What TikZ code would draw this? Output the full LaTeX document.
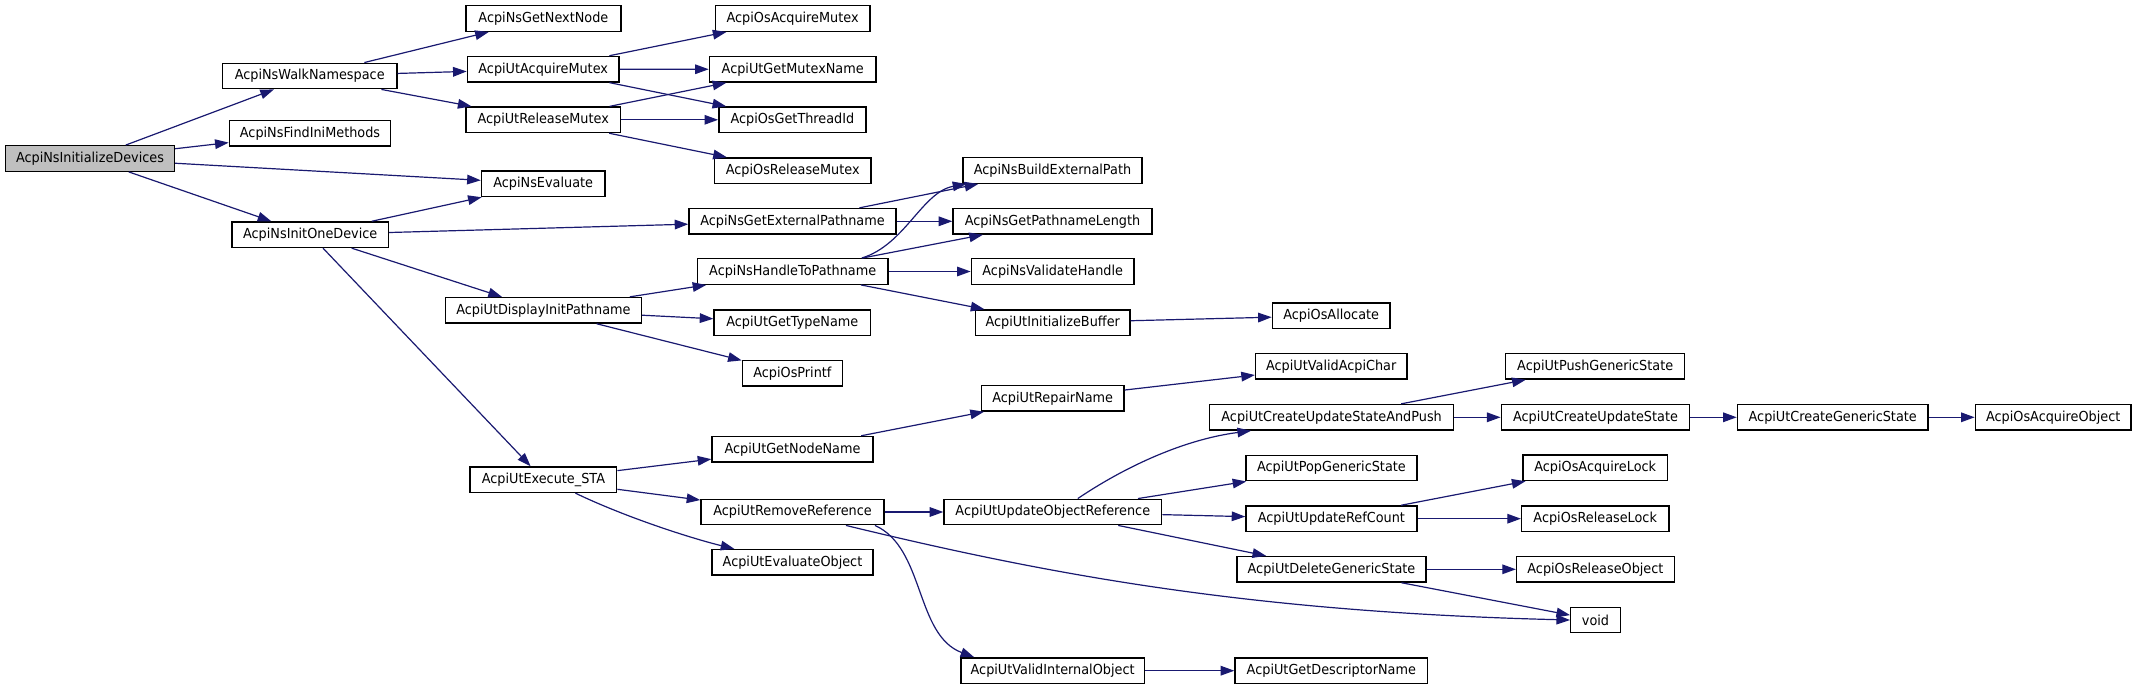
\documentclass[tikz,border=0pt]{standalone}
\usepackage{fontspec}
\setmainfont{DejaVu Sans}[FakeStretch=0.93]
\usetikzlibrary{arrows.meta,calc}
\definecolor{edgeblue}{HTML}{191970}
\definecolor{rootgray}{HTML}{BFBFBF}
\tikzset{
  fn/.style={draw=black, line width=0.7pt, rectangle, minimum height=12.75pt, inner sep=0pt, fill=white,
    font=\fontsize{6.9pt}{8pt}\selectfont},
  rootfn/.style={fn, fill=rootgray},
  edge/.style={draw=edgeblue, line width=0.6pt, -{Triangle[length=6.8pt,width=4.8pt]}, color=edgeblue},
}
\begin{document}
\begin{tikzpicture}[x=0.5pt,y=-0.5pt]
\useasboundingbox (0,0) rectangle (2136,689);
% column 0
\node[rootfn, minimum width=84.5pt] (InitDev) at (90,158.5) {AcpiNsInitializeDevices};
% column 1
\node[fn, minimum width=87.2pt] (WalkNs) at (309.7,76) {AcpiNsWalkNamespace};
\node[fn, minimum width=80.65pt] (FindIni) at (310,133.3) {AcpiNsFindIniMethods};
\node[fn, minimum width=78.15pt] (InitOne) at (310.2,234.7) {AcpiNsInitOneDevice};
% column 2
\node[fn, minimum width=77.4pt] (GetNextNode) at (543.4,18.5) {AcpiNsGetNextNode};
\node[fn, minimum width=75.85pt] (UtAcqMutex) at (543.2,69.2) {AcpiUtAcquireMutex};
\node[fn, minimum width=77.2pt] (UtRelMutex) at (543.2,119.8) {AcpiUtReleaseMutex};
\node[fn, minimum width=61.75pt] (NsEvaluate) at (543.2,183.8) {AcpiNsEvaluate};
\node[fn, minimum width=97.85pt] (DisplayInit) at (543.4,310.3) {AcpiUtDisplayInitPathname};
\node[fn, minimum width=73.35pt] (ExecSTA) at (543.4,479.7) {AcpiUtExecute\_STA};
% column 3
\node[fn, minimum width=77.4pt] (OsAcqMutex) at (792.6,18.5) {AcpiOsAcquireMutex};
\node[fn, minimum width=83.3pt] (GetMutexName) at (792.7,69.3) {AcpiUtGetMutexName};
\node[fn, minimum width=73.6pt] (OsGetThreadId) at (792.4,119.8) {AcpiOsGetThreadId};
\node[fn, minimum width=78.35pt] (OsRelMutex) at (792.7,170.7) {AcpiOsReleaseMutex};
\node[fn, minimum width=103.5pt] (GetExtPath) at (792.5,221.3) {AcpiNsGetExternalPathname};
\node[fn, minimum width=95.25pt] (HandleToPath) at (792.7,271.5) {AcpiNsHandleToPathname};
\node[fn, minimum width=78.25pt] (GetTypeName) at (792.3,322.7) {AcpiUtGetTypeName};
\node[fn, minimum width=50pt] (OsPrintf) at (792.4,373.2) {AcpiOsPrintf};
\node[fn, minimum width=80.5pt] (GetNodeName) at (792.5,449.2) {AcpiUtGetNodeName};
\node[fn, minimum width=91.5pt] (RemoveRef) at (792.5,512) {AcpiUtRemoveReference};
\node[fn, minimum width=80.5pt] (EvalObject) at (792.5,562.3) {AcpiUtEvaluateObject};
% column 4
\node[fn, minimum width=89.5pt] (BuildExtPath) at (1052.5,170.5) {AcpiNsBuildExternalPath};
\node[fn, minimum width=99.5pt] (GetPathLen) at (1052.5,221.3) {AcpiNsGetPathnameLength};
\node[fn, minimum width=81.35pt] (ValidateHandle) at (1052.7,271.5) {AcpiNsValidateHandle};
\node[fn, minimum width=77.3pt] (InitBuffer) at (1052.7,322.7) {AcpiUtInitializeBuffer};
\node[fn, minimum width=71.35pt] (RepairName) at (1052.7,398.3) {AcpiUtRepairName};
\node[fn, minimum width=108.8pt] (UpdateObjRef) at (1052.8,512) {AcpiUtUpdateObjectReference};
\node[fn, minimum width=91.7pt] (ValidInternal) at (1052.6,670.7) {AcpiUtValidInternalObject};
% column 5
\node[fn, minimum width=58.8pt] (OsAllocate) at (1331.2,315.7) {AcpiOsAllocate};
\node[fn, minimum width=75.6pt] (ValidAcpiChar) at (1331.2,366.3) {AcpiUtValidAcpiChar};
\node[fn, minimum width=121.9pt] (CreateUSAP) at (1331.6,417.3) {AcpiUtCreateUpdateStateAndPush};
\node[fn, minimum width=85.4pt] (PopGeneric) at (1331.4,468) {AcpiUtPopGenericState};
\node[fn, minimum width=85.4pt] (UpdateRefCount) at (1331.4,518.7) {AcpiUtUpdateRefCount};
\node[fn, minimum width=94.5pt] (DeleteGeneric) at (1331.5,569.3) {AcpiUtDeleteGenericState};
\node[fn, minimum width=96.3pt] (GetDescName) at (1331.3,670.7) {AcpiUtGetDescriptorName};
% column 6
\node[fn, minimum width=89.5pt] (PushGeneric) at (1595.2,366.3) {AcpiUtPushGenericState};
\node[fn, minimum width=94.25pt] (CreateUpdateState) at (1595.5,417.3) {AcpiUtCreateUpdateState};
\node[fn, minimum width=72.2pt] (OsAcqLock) at (1595.2,467.8) {AcpiOsAcquireLock};
\node[fn, minimum width=73.6pt] (OsRelLock) at (1595.2,518.7) {AcpiOsReleaseLock};
\node[fn, minimum width=78.8pt] (OsRelObject) at (1595.4,569.3) {AcpiOsReleaseObject};
\node[fn, minimum width=24.75pt] (void) at (1595.5,620) {void};
% column 7, 8
\node[fn, minimum width=95.3pt] (CreateGeneric) at (1832.7,417.3) {AcpiUtCreateGenericState};
\node[fn, minimum width=77.85pt] (OsAcqObject) at (2053.2,417.3) {AcpiOsAcquireObject};

% edges
\draw[edge] (InitDev) -- (WalkNs);
\draw[edge] (InitDev) -- (FindIni);
\draw[edge] (InitDev) -- (NsEvaluate);
\draw[edge] (InitDev) -- (InitOne);
\draw[edge] (WalkNs) -- (GetNextNode);
\draw[edge] (WalkNs) -- (UtAcqMutex);
\draw[edge] (WalkNs) -- (UtRelMutex);
\draw[edge] (UtAcqMutex) -- (OsAcqMutex);
\draw[edge] (UtAcqMutex) -- (GetMutexName);
\draw[edge] (UtAcqMutex) -- (OsGetThreadId);
\draw[edge] (UtRelMutex) -- (GetMutexName);
\draw[edge] (UtRelMutex) -- (OsGetThreadId);
\draw[edge] (UtRelMutex) -- (OsRelMutex);
\draw[edge] (InitOne) -- (NsEvaluate);
\draw[edge] (InitOne) -- (GetExtPath);
\draw[edge] (InitOne) -- (DisplayInit);
\draw[edge] (InitOne) -- (ExecSTA);
\draw[edge] (GetExtPath) -- ($(BuildExtPath.south west)+(16,0)$);
\draw[edge] (GetExtPath) -- (GetPathLen);
\draw[edge] ($(HandleToPath.north)+(69,0)$) .. controls (905,245) and (922,192) .. ($(BuildExtPath.south west)+(4,0)$);
\draw[edge] (HandleToPath) -- (GetPathLen);
\draw[edge] (HandleToPath) -- (ValidateHandle);
\draw[edge] (HandleToPath) -- (InitBuffer);
\draw[edge] (InitBuffer) -- (OsAllocate);
\draw[edge] (DisplayInit) -- (HandleToPath);
\draw[edge] (DisplayInit) -- (GetTypeName);
\draw[edge] (DisplayInit) -- (OsPrintf);
\draw[edge] (ExecSTA) -- (GetNodeName);
\draw[edge] (ExecSTA) -- (RemoveRef);
\draw[edge] ($(ExecSTA.south)+(32,0)$) .. controls (625,517) and (690,538) .. ($(EvalObject.north west)+(23,0)$);
\draw[edge] (GetNodeName) -- (RepairName);
\draw[edge] (RepairName) -- (ValidAcpiChar);
\draw[edge] (RemoveRef) -- (UpdateObjRef);
\draw[edge] ($(RemoveRef.south)+(82.5,0)$) .. controls (925,548) and (915,635) .. ($(ValidInternal.north west)+(14,0)$);
\draw[edge] ($(RemoveRef.south)+(53.5,0)$) .. controls (1050,575) and (1250,612) .. (void.west);
\draw[edge] ($(UpdateObjRef.north)+(25,0)$) .. controls (1120,470) and (1180,440) .. ($(CreateUSAP.south west)+(42,0)$);
\draw[edge] (UpdateObjRef) -- (PopGeneric);
\draw[edge] (UpdateObjRef) -- (UpdateRefCount);
\draw[edge] (UpdateObjRef) -- (DeleteGeneric);
\draw[edge] (CreateUSAP) -- (PushGeneric);
\draw[edge] (CreateUSAP) -- (CreateUpdateState);
\draw[edge] (CreateUpdateState) -- (CreateGeneric);
\draw[edge] (CreateGeneric) -- (OsAcqObject);
\draw[edge] (UpdateRefCount) -- (OsAcqLock);
\draw[edge] (UpdateRefCount) -- (OsRelLock);
\draw[edge] (DeleteGeneric) -- (OsRelObject);
\draw[edge] (DeleteGeneric) -- (void);
\draw[edge] (ValidInternal) -- (GetDescName);
\end{tikzpicture}
\end{document}
